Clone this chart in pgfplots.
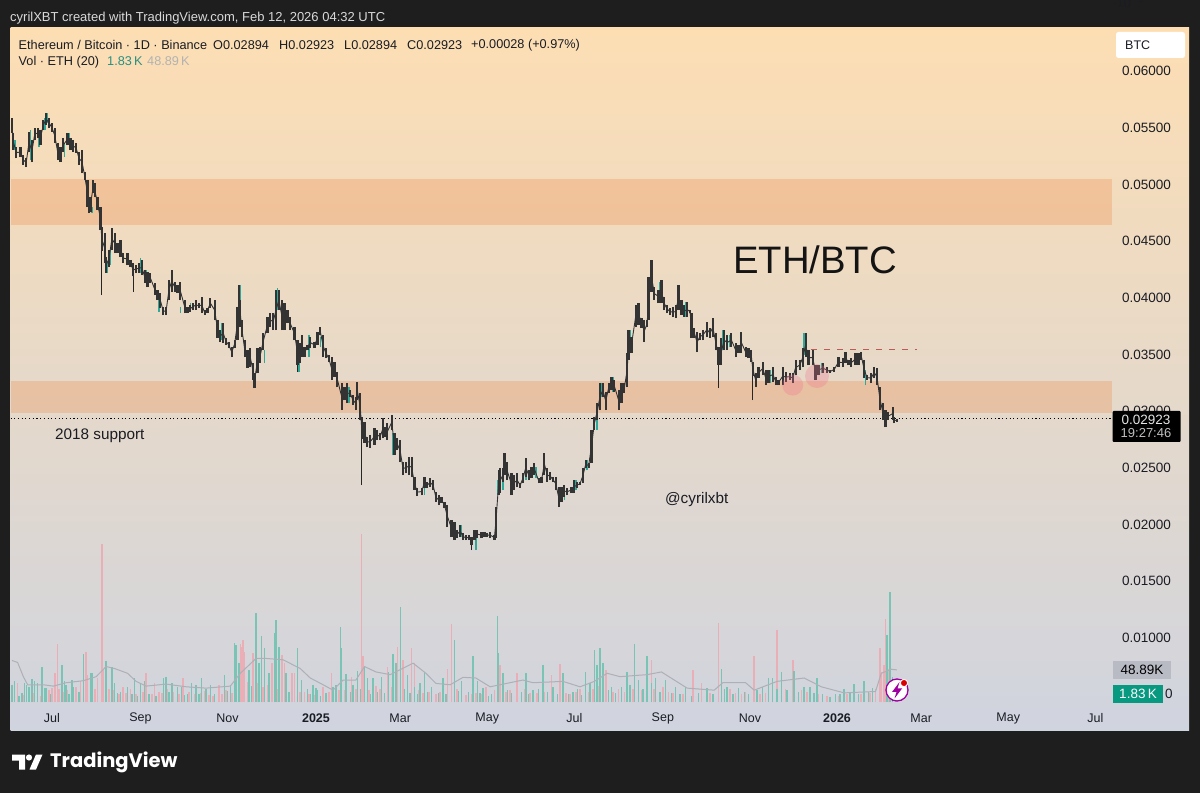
\documentclass[border=0pt]{standalone}
\usepackage{pgfplots}
\usepackage{pgfplotstable}
\usepackage{fontspec}
\setmainfont{Liberation Sans}
\newfontfamily\logofont{Poppins}
\pgfplotsset{compat=1.18}
\definecolor{frame}{HTML}{1E1E1E}
\definecolor{candle}{HTML}{333333}
\definecolor{upc}{HTML}{2FA898}
\definecolor{volup}{HTML}{7AC4B6}
\definecolor{voldn}{HTML}{E9AEB6}
\definecolor{txt}{HTML}{1A1C24}
\definecolor{bgtop}{HTML}{FDDEB3}
\definecolor{bgmid}{HTML}{E7D9C8}
\definecolor{bgbot}{HTML}{D0D4DF}
\definecolor{greybox}{HTML}{B8BAC4}
\definecolor{greenbox}{HTML}{089981}
\definecolor{bandc}{RGB}{240,130,60}
\definecolor{circlec}{RGB}{240,110,140}
\definecolor{dashc}{HTML}{BC5A5A}
\definecolor{mac}{HTML}{AEB0B8}
\newcommand{\fs}[1]{\fontsize{#1}{#1}\selectfont}
% ETH/BTC: day (0 = 1 Jan 2025), low, high
\pgfplotstableread{
t lo hi
-213 .05444 .05576
-212 .05294 .05444
-210 .05223 .05320
-207 .05232 .05320
-205 .05162 .05250
-203 .05144 .05223
-201 .05276 .05453
-199 .05188 .05382
-197 .05382 .05488
-195 .05400 .05488
-193 .05338 .05470
-191 .05470 .05559
-189 .05515 .05620
-187 .05488 .05576
-185 .05453 .05532
-183 .05356 .05488
-181 .05206 .05356
-179 .05188 .05320
-177 .05276 .05400
-174 .05338 .05444
-172 .05294 .05400
-170 .05276 .05382
-168 .05268 .05356
-166 .05162 .05276
-164 .05091 .05294
-162 .05029 .05100
-160 .04791 .05029
-159 .04738 .04853
-158 .04747 .04879
-156 .04915 .05029
-155 .04879 .05003
-153 .04765 .04879
-151 .04588 .04791
-150 .04400 .04615
-148 .04297 .04562
-147 .04209 .04350
-145 .04262 .04412
-143 .04412 .04606
-141 .04385 .04562
-139 .04385 .04474
-137 .04350 .04500
-135 .04297 .04385
-132 .04280 .04385
-130 .04262 .04324
-128 .04180 .04297
-126 .04209 .04280
-124 .04209 .04297
-122 .04191 .04324
-120 .04121 .04236
-118 .04086 .04218
-116 .04121 .04209
-113 .04015 .04121
-111 .03971 .04059
-109 .03900 .04033
-107 .03839 .03909
-105 .03839 .03909
-103 .03971 .04147
-101 .04041 .04236
-99 .04041 .04130
-97 .04033 .04103
-95 .03971 .04130
-92 .03856 .03971
-90 .03856 .03909
-88 .03865 .03927
-86 .03883 .03945
-84 .03883 .03971
-82 .03900 .03945
-80 .03856 .03997
-78 .03839 .03883
-76 .03856 .03900
-74 .03900 .03989
-71 .03795 .03971
-69 .03636 .03795
-67 .03601 .03706
-65 .03592 .03768
-63 .03574 .03636
-61 .03548 .03601
-59 .03468 .03557
-57 .03548 .03618
-55 .03618 .03909
-54 .03856 .04103
-53 .03733 .03971
-52 .03645 .03795
-50 .03468 .03618
-48 .03371 .03530
-46 .03380 .03548
-44 .03265 .03415
-43 .03195 .03327
-41 .03327 .03548
-39 .03415 .03557
-37 .03530 .03680
-34 .03680 .03821
-32 .03733 .03856
-30 .03706 .03856
-28 .03706 .04059
-26 .03883 .04059
-24 .03706 .03971
-22 .03706 .03945
-20 .03768 .03883
-18 .03706 .03821
-15 .03618 .03733
-13 .03400 .03618
-11 .03415 .03592
-10 .03468 .03662
-8 .03468 .03557
-6 .03530 .03574
-4 .03548 .03645
-1 .03548 .03601
1 .03574 .03689
3 .03662 .03733
5 .03468 .03662
7 .03459 .03548
9 .03424 .03486
11 .03265 .03468
13 .03292 .03424
15 .03204 .03336
18 .03001 .03239
20 .03089 .03204
22 .03063 .03239
24 .03115 .03177
26 .03045 .03133
28 .03001 .03115
29 .03089 .03248
31 .02913 .03151
32 .02750 .02939
34 .02710 .02895
36 .02674 .02763
38 .02666 .02780
41 .02692 .02842
43 .02736 .02825
45 .02736 .02798
47 .02754 .02930
48 .02763 .02851
50 .02736 .02886
53 .02825 .02957
55 .02604 .02798
57 .02648 .02754
59 .02542 .02736
61 .02428 .02542
63 .02445 .02542
65 .02428 .02586
67 .02410 .02586
69 .02295 .02410
71 .02242 .02313
74 .02251 .02313
76 .02313 .02410
78 .02313 .02366
80 .02322 .02401
82 .02295 .02384
84 .02189 .02278
86 .02163 .02251
88 .02180 .02233
90 .02137 .02189
92 .01969 .02163
95 .01881 .02031
97 .01854 .02013
99 .01872 .01942
101 .01881 .01987
103 .01854 .01916
105 .01854 .01898
107 .01854 .01898
109 .01810 .01881
111 .01854 .01942
113 .01872 .01942
116 .01872 .01925
118 .01881 .01925
120 .01881 .01916
122 .01872 .01925
125 .01854 .01898
126 .01872 .02145
128 .02251 .02472
129 .02269 .02489
131 .02366 .02489
132 .02428 .02622
134 .02384 .02542
137 .02251 .02445
139 .02295 .02428
141 .02322 .02445
143 .02313 .02357
145 .02357 .02445
147 .02410 .02578
149 .02384 .02472
151 .02401 .02498
153 .02428 .02533
156 .02357 .02401
158 .02357 .02410
160 .02428 .02622
162 .02366 .02489
164 .02384 .02454
166 .02366 .02410
168 .02295 .02410
170 .02145 .02322
172 .02189 .02322
174 .02233 .02339
176 .02251 .02313
179 .02269 .02322
181 .02269 .02384
183 .02313 .02366
185 .02339 .02366
187 .02357 .02489
189 .02489 .02560
191 .02489 .02533
193 .02533 .02825
195 .02825 .02939
197 .02913 .03063
199 .03001 .03239
201 .03115 .03239
203 .03001 .03160
205 .03151 .03239
207 .03177 .03292
209 .03160 .03265
212 .03001 .03177
214 .03063 .03239
216 .03151 .03239
218 .03204 .03504
219 .03442 .03706
221 .03504 .03645
224 .03733 .03927
226 .03750 .03945
228 .03724 .03812
230 .03601 .03795
232 .03733 .03795
233 .03795 .04174
235 .04041 .04324
237 .03971 .04086
240 .03945 .04059
242 .03945 .04147
244 .03883 .03997
246 .03856 .03927
248 .03839 .03900
250 .03821 .03909
252 .03812 .03927
254 .03883 .04103
256 .03839 .03971
258 .03821 .03927
260 .03821 .03953
262 .03856 .03883
263 .03636 .03856
265 .03636 .03724
267 .03512 .03689
269 .03618 .03680
271 .03618 .03706
274 .03645 .03777
276 .03636 .03724
278 .03645 .03812
280 .03530 .03680
282 .03400 .03557
284 .03398 .03636
286 .03530 .03706
288 .03530 .03662
291 .03557 .03680
294 .03468 .03592
296 .03504 .03574
298 .03504 .03689
301 .03468 .03557
303 .03459 .03548
305 .03424 .03530
306 .03300 .03424
308 .03204 .03327
310 .03283 .03380
313 .03309 .03424
315 .03221 .03354
317 .03239 .03354
320 .03248 .03380
322 .03221 .03292
324 .03221 .03265
327 .03221 .03380
329 .03248 .03336
332 .03265 .03327
334 .03239 .03327
336 .03309 .03442
339 .03354 .03442
341 .03380 .03548
343 .03468 .03680
345 .03398 .03530
348 .03398 .03530
350 .03265 .03398
352 .03309 .03398
355 .03327 .03415
358 .03327 .03380
360 .03327 .03354
363 .03336 .03380
366 .03380 .03468
369 .03380 .03459
371 .03415 .03512
373 .03398 .03442
375 .03380 .03459
378 .03398 .03504
380 .03398 .03504
382 .03442 .03512
384 .03283 .03442
386 .03265 .03309
389 .03239 .03327
391 .03283 .03380
393 .03221 .03371
395 .03001 .03204
397 .02913 .03063
399 .02851 .03001
401 .02913 .02983
404 .02913 .03027
405 .02886 .02939
407 .02894 .02923
}\pricetab
% long lower wicks
\pgfplotstableread{
t lo hi
-150 .04015 .04400
-128 .04041 .04180
-13 .03336 .03400
32 .02339 .02750
109 .01766 .01810
282 .03195 .03400
306 .03089 .03300
}\spiketab
% candles that closed up and show their teal wicks
\pgfplotstableread{
t lo hi
-211 .05294 .05382
-200 .05206 .05470
-194 .05320 .05400
-190 .05470 .05576
-188 .05532 .05620
-176 .05232 .05356
-173 .05356 .05444
-157 .04738 .04791
-146 .04209 .04297
-144 .04280 .04412
-123 .04209 .04341
-119 .04121 .04236
-110 .03865 .03971
-107 .03839 .03909
-101 .04086 .04236
-95 .03856 .03909
-88 .03883 .03945
-80 .03900 .03997
-66 .03618 .03768
-53 .03909 .04103
-36 .03415 .03530
-33 .03733 .03821
-27 .03883 .04077
-12 .03336 .03557
-5 .03468 .03662
3 .03557 .03645
13 .03292 .03424
18 .03001 .03239
23 .03063 .03204
38 .02666 .02780
47 .02780 .02930
54 .02604 .02798
76 .02251 .02410
102 .01881 .01987
112 .01766 .01881
127 .02251 .02384
131 .02295 .02454
138 .02295 .02428
147 .02384 .02578
154 .02401 .02498
174 .02207 .02322
182 .02295 .02384
190 .02472 .02560
197 .02825 .03001
200 .03115 .03239
208 .03160 .03292
220 .03530 .03706
224 .03795 .03927
233 .04015 .04174
235 .04147 .04324
241 .03971 .04130
246 .03856 .03927
259 .03821 .03953
285 .03530 .03706
290 .03557 .03662
308 .03204 .03327
318 .03239 .03354
342 .03486 .03680
354 .03327 .03415
371 .03415 .03512
385 .03221 .03354
399 .02851 .02983
}\tealtab
% Volume, thousands of ETH
\pgfplotstableread{
t v
-213 26
-211 31
-208 9
-206 14
-204 28
-203 26
-201 23
-199 34
-197 32
-195 28
-192 53
-190 21
-189 21
-186 13
-178 55
-176 31
-175 26
-173 12
-171 33
-170 23
-166 15
-163 72
-158 43
-157 44
-147 61
-143 53
-141 29
-139 14
-137 16
-132 23
-129 13
-127 36
-125 10
-123 28
-120 31
-117 13
-112 10
-107 36
-105 37
-103 15
-101 29
-97 23
-94 23
-92 11
-90 13
-87 28
-84 26
-82 12
-80 36
-77 19
-74 26
-71 12
-64 40
-62 17
-60 26
-57 88
-56 85
-54 58
-47 48
-45 24
-42 133
-40 58
-38 98
-36 80
-33 43
-29 102
-28 122
-26 82
-21 43
-19 16
-13 80
-10 33
-6 19
-4 12
-2 26
0 21
1 18
3 10
7 14
12 23
14 26
17 111
18 80
21 42
24 15
26 26
29 46
31 20
34 53
36 36
38 12
40 36
43 15
46 38
48 14
51 45
54 71
56 58
59 141
62 20
64 41
66 14
69 23
71 12
73 28
76 45
78 16
81 23
86 14
89 36
91 12
97 92
100 17
102 31
107 15
110 68
113 32
115 14
117 21
121 10
123 13
127 128
128 73
131 43
134 18
137 14
144 16
147 43
149 12
152 18
156 20
159 55
162 15
166 23
169 12
173 44
177 13
180 15
183 20
186 11
189 45
192 28
195 77
197 55
199 80
201 58
205 18
207 23
210 14
214 22
218 45
220 25
223 86
226 33
229 20
232 68
235 28
238 36
241 15
245 33
249 14
252 23
255 12
259 23
263 10
268 14
274 21
278 12
284 50
286 20
288 23
292 12
296 21
300 15
303 13
309 18
313 22
317 36
320 36
323 20
326 45
330 18
335 47
338 16
342 23
346 23
349 14
351 36
355 12
360 8
364 13
367 12
370 19
374 14
377 27
380 12
384 31
387 15
390 21
400 100
402 163
404 38
406 4
}\volup
\pgfplotstableread{
t v
-213 23
-209 28
-205 11
-198 14
-193 10
-187 18
-185 21
-183 43
-181 86
-180 20
-177 16
-174 18
-168 23
-165 31
-161 75
-160 41
-155 20
-153 36
-150 235
-149 48
-145 20
-142 18
-138 12
-135 23
-133 14
-130 20
-126 12
-121 16
-119 43
-115 12
-113 28
-110 15
-108 14
-104 20
-100 16
-96 12
-93 36
-89 16
-85 12
-81 14
-78 17
-75 11
-72 10
-68 26
-66 13
-63 18
-59 14
-53 87
-52 82
-51 93
-50 75
-48 30
-44 73
-41 28
-37 22
-34 25
-31 58
-27 20
-24 70
-22 58
-17 43
-15 43
-11 16
-8 16
-5 13
-1 11
5 23
9 16
11 43
16 18
20 18
25 38
28 20
32 249
33 69
37 18
42 24
45 20
50 53
53 22
57 82
61 63
67 80
69 58
72 18
75 14
79 16
84 13
87 16
92 50
95 116
99 20
105 11
109 12
112 14
116 12
119 23
125 18
129 55
133 16
136 18
141 43
146 20
150 14
155 14
160 16
165 41
171 57
175 14
178 12
182 16
185 20
191 15
194 20
198 24
203 48
208 16
212 20
216 16
222 20
228 18
235 62
237 20
243 22
247 16
250 14
257 12
264 48
270 28
276 14
282 118
290 20
294 14
298 12
301 16
307 68
311 13
315 14
323 107
329 20
334 62
340 18
344 16
352 12
358 10
366 10
372 12
382 12
388 14
392 20
395 80
396 45
398 55
399 124
401 50
}\voldn
\pgfplotstableread{
t v
-213 62
-209 59
-205 38
-202 26
-191 26
-184 24
-175 29
-163 32
-154 38
-147 53
-141 50
-132 43
-126 31
-119 24
-105 27
-91 23
-77 21
-60 24
-53 43
-42 65
-35 65
-23 63
-11 50
-4 36
5 26
12 18
19 33
28 33
34 53
42 45
52 41
68 58
77 43
84 28
94 26
103 37
112 36
122 23
145 33
152 29
173 31
185 23
195 31
204 43
213 38
232 41
242 45
260 21
279 18
285 29
301 29
307 18
323 31
342 36
354 23
370 14
392 16
396 43
403 49
407 48
}\volma
\begin{document}
\begin{tikzpicture}
\useasboundingbox (0,0) rectangle (1200pt,793pt);
\fill[frame] (0,0) rectangle (1200pt,793pt);
\shade[top color=bgtop, middle color=bgmid, bottom color=bgbot]
  (10.5pt,62pt) rectangle (1189pt,765pt);
% volume pane
\begin{axis}[at={(10.5pt,62pt)},anchor=south west,scale only axis,width=1178.5pt,height=703pt,
  hide axis,xmin=-214,xmax=611.6,ymin=-42.5,ymax=999]
\addplot[ycomb,draw=voldn,line width=1.6pt,no marks] table[x=t,y=v] {\voldn};
\addplot[ycomb,draw=volup,line width=1.4pt,no marks] table[x=t,y=v] {\volup};
\addplot[draw=mac,line width=1pt,no marks] table[x=t,y=v] {\volma};
\end{axis}
% price pane
\begin{axis}[at={(10.5pt,62pt)},anchor=south west,scale only axis,width=1178.5pt,height=703pt,
  xmin=-214,xmax=611.6,ymin=0.00171,ymax=0.0637,
  axis line style={draw=none},major tick length=0pt,
  xtick={-185,-123,-62,0,59,120,181,243,304,365,424,485,546},
  xticklabels={Jul,Sep,Nov,\textbf{2025},Mar,May,Jul,Sep,Nov,\textbf{2026},Mar,May,Jul},
  xticklabel style={anchor=center,yshift=13pt,font=\fs{12.5},text=txt},
  ytick={0.01,0.015,0.02,0.025,0.03,0.035,0.04,0.045,0.05,0.055,0.06},
  yticklabels={0.01000,0.01500,0.02000,0.02500,0.03000,0.03500,0.04000,0.04500,0.05000,0.05500,0.06000},
  yticklabel pos=right,
  yticklabel style={anchor=center,xshift=-42.5pt,yshift=-1pt,font=\fs{13.5},text=txt}]
\addplot[draw=none,fill=bandc,fill opacity=.27,forget plot] coordinates {(-214,.04633) (557.7,.04633) (557.7,.05039) (-214,.05039)} -- cycle;
\addplot[draw=none,fill=bandc,fill opacity=.27,forget plot] coordinates {(-214,.02975) (557.7,.02975) (557.7,.03258) (-214,.03258)} -- cycle;
\addplot[only marks,mark=*,mark size=10.5pt,mark options={color=circlec,draw opacity=0,fill opacity=.28},forget plot] coordinates {(334,.03221)};
\addplot[only marks,mark=*,mark size=12pt,mark options={color=circlec,draw opacity=0,fill opacity=.28},forget plot] coordinates {(351,.03301)};
\addplot[draw=black,line width=.9pt,dash pattern=on 1.1pt off 2.6pt,forget plot] coordinates {(-214,.02923) (557.7,.02923)};
\addplot[draw=dashc,line width=1pt,dash pattern=on 6pt off 7pt,forget plot] coordinates {(347,.03535) (421,.03535)};
\addplot[draw=none,no marks,forget plot,error bars/.cd,y dir=plus,y explicit,error mark=none,
  error bar style={line width=1.5pt,color=upc}] table[x=t,y=lo,y error expr=\thisrow{hi}-\thisrow{lo}] {\tealtab};
\addplot[draw=candle,line width=.9pt,no marks,forget plot] table[x=t,y expr=(\thisrow{lo}+\thisrow{hi})/2] {\pricetab};
\addplot[draw=none,no marks,forget plot,error bars/.cd,y dir=plus,y explicit,error mark=none,
  error bar style={line width=1pt,color=black!85}] table[x=t,y=lo,y error expr=\thisrow{hi}-\thisrow{lo}] {\spiketab};
\addplot[draw=none,no marks,forget plot,error bars/.cd,y dir=plus,y explicit,error mark=none,
  error bar style={line width=2.2pt,color=candle}] table[x=t,y=lo,y error expr=\thisrow{hi}-\thisrow{lo}] {\pricetab};
\end{axis}
% text and labels, in picture pixels (y down)
\begin{scope}[x=1pt,y=-1pt,yshift=793pt]
\tikzset{lab/.style={inner sep=0pt,anchor=west,text=txt}}
\node[lab,text=black!15,font=\fs{13}] at (10,18) {cyrilXBT created with TradingView.com, Feb 12, 2026 04:32 UTC};
\node[lab,font=\fs{12.7}] at (18.5,45) {Ethereum / Bitcoin · 1D · Binance};
\node[lab,font=\fs{12.7}] at (213,45) {O0.02894};
\node[lab,font=\fs{12.7}] at (279,45) {H0.02923};
\node[lab,font=\fs{12.7}] at (344,45) {L0.02894};
\node[lab,font=\fs{12.7}] at (407,45) {C0.02923};
\node[lab,font=\fs{12.7}] at (471,45) {+0.00028 (+0.97\%)};
\node[lab,font=\fs{12.7}] at (18.5,62) {Vol · ETH (20)};
\node[lab,font=\fs{12.7},text=upc!85!black] at (107,61.5) {1.83\,K};
\node[lab,font=\fs{12.7},text=black!30] at (147,61.5) {48.89\,K};
\fill[white,rounded corners=2.5pt] (1116,32) rectangle (1185,58);
\node[lab,font=\fs{12.5}] at (1125,45.5) {BTC};
\node[lab,font=\fs{15.3}] at (55,436) {2018 support};
\node[lab,font=\fs{15.3}] at (665,500) {@cyrilxbt};
\node[anchor=center,inner sep=0pt,font=\fs{38.3},text=black!92] at (815,260) {ETH/BTC};
\fill[black,rounded corners=1pt] (1112.5,411) rectangle (1180.5,442);
\node[inner sep=0pt,font=\fs{13.5},text=white!90!black] at (1146,419.5) {0.02923};
\node[inner sep=0pt,font=\fs{13},text=white!75!black] at (1146,433.5) {19:27:46};
\fill[greybox] (1113,661) rectangle (1171,679);
\node[inner sep=0pt,font=\fs{13.5}] at (1142,670) {48.89K};
\fill[greenbox] (1113,685) rectangle (1163,703);
\node[inner sep=0pt,font=\fs{13.5},text=white] at (1138,694) {1.83\,K};
\node[lab,font=\fs{13.5}] at (1165,694) {0};
\filldraw[fill=white,draw=violet!75!magenta,line width=1.3pt] (897,690) circle (11);
\fill[violet!75!magenta] (899.5,682) -- (892,692) -- (896.5,692) -- (894.5,698.5) -- (902,688.5) -- (897.5,688.5) -- cycle;
\filldraw[fill=red!85!black,draw=white,line width=.8pt] (904,683) circle (3.6);
\fill[white] (12,754.5) -- (25,754.5) -- (25,769.5) -- (19,769.5) -- (19,760.5) -- (12,760.5) -- cycle;
\fill[white] (29,757.5) circle (3.1);
\fill[white] (36,754.5) -- (42.5,754.5) -- (36,769.5) -- (29.5,769.5) -- cycle;
\node[lab,text=white,font=\logofont\bfseries\fontsize{19.5}{19.5}\selectfont] at (50,762.5) {TradingView};
\end{scope}
\end{tikzpicture}
\end{document}
